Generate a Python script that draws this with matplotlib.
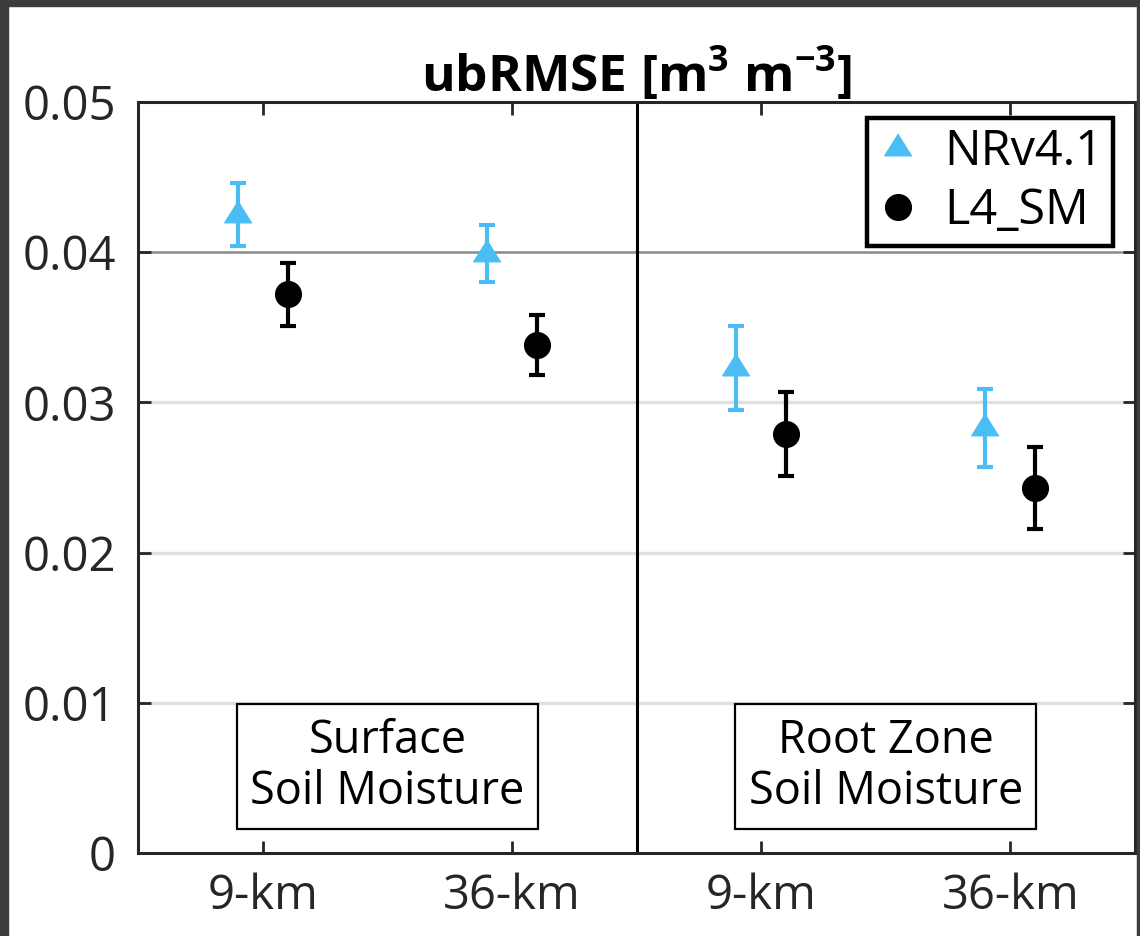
import matplotlib
matplotlib.use("Agg")
import matplotlib.pyplot as plt
from matplotlib.lines import Line2D
from matplotlib.patches import Rectangle

# ---- data ----
categories = ["9-km", "36-km", "9-km", "36-km"]
groups = ["Surface\nSoil Moisture", "Root Zone\nSoil Moisture"]
nr_vals = [0.0425, 0.0399, 0.0323, 0.0283]
nr_err = [0.0021, 0.0019, 0.0028, 0.0026]
l4_vals = [0.0372, 0.0338, 0.0279, 0.0243]
l4_err = [0.0021, 0.0020, 0.0028, 0.0027]
series_names = ["NRv4.1", "L4_SM"]
ytick_vals = [0, 0.01, 0.02, 0.03, 0.04, 0.05]
ytick_labels = ["0", "0.01", "0.02", "0.03", "0.04", "0.05"]

plt.rcParams["font.family"] = ["Open Sans", "DejaVu Sans"]
plt.rcParams["mathtext.fontset"] = "custom"
plt.rcParams["mathtext.rm"] = "Open Sans"
plt.rcParams["mathtext.bf"] = "Open Sans:bold"

BLUE = "#4BBDF5"
DARK = "#262626"

fig = plt.figure(figsize=(11.4, 9.36), dpi=100)
ax = fig.add_axes([138 / 1140, 1 - 853 / 936, (1135 - 138) / 1140, (853 - 102) / 936])

x = list(range(1, len(categories) + 1))
off = 0.1
tri = [(0, 1.0667), (-1, -0.5333), (1, -0.5333)]

# grid / reference lines
for yv in ytick_vals[1:4]:
    ax.axhline(yv, color="#e0e0e0", lw=2.4, zorder=0)
ax.axhline(0.04, color="#8a8a8a", lw=1.8, zorder=0.5)
ax.axvline(2.5, color="black", lw=2.2, zorder=1)

ax.errorbar([xi - off for xi in x], nr_vals, yerr=nr_err, fmt="none",
            ecolor=BLUE, elinewidth=3, capsize=5.6, capthick=3, zorder=2)
ax.plot([xi - off for xi in x], nr_vals, linestyle="none", marker=tri,
        markersize=21, color=BLUE, zorder=3)
ax.errorbar([xi + off for xi in x], l4_vals, yerr=l4_err, fmt="none",
            ecolor="black", elinewidth=3, capsize=5.6, capthick=3, zorder=2)
ax.plot([xi + off for xi in x], l4_vals, linestyle="none", marker="o",
        markersize=18.5, color="black", zorder=3)

ax.set_xlim(0.5, 4.5)
ax.set_ylim(0, 0.05)
ax.set_xticks(x)
ax.set_xticklabels(categories)
ax.set_yticks(ytick_vals)
ax.set_yticklabels(ytick_labels)
ax.tick_params(axis="both", direction="in", length=9, width=2, colors=DARK,
               labelsize=34, top=True, right=True)
ax.tick_params(axis="x", pad=14)
ax.tick_params(axis="y", pad=16)
for sp in ax.spines.values():
    sp.set_color(DARK)
    sp.set_linewidth(2.2)

ax.set_title(r"ubRMSE [m$^{\mathbf{3}}$ m$^{\mathbf{-3}}$]", fontsize=37,
             fontweight="bold", pad=7)

# group labels
for gx, gl in zip([1.5, 3.5], groups):
    ax.text(gx, 0.00575, gl, ha="center", va="center", fontsize=32.5,
            linespacing=1.15, color="black",
            bbox=dict(boxstyle="square,pad=0.3", fc="white", ec="black", lw=1.6),
            zorder=4)

handles = [Line2D([], [], linestyle="none", marker=tri, markersize=21, color=BLUE),
           Line2D([], [], linestyle="none", marker="o", markersize=18.5, color="black")]
leg = ax.legend(handles, series_names, loc="upper right", fontsize=35,
                frameon=True, fancybox=False, framealpha=1, handlelength=0.9,
                handletextpad=0.5, borderpad=0.2, labelspacing=0.2,
                borderaxespad=0.0, bbox_to_anchor=(0.978, 0.979))
leg.get_frame().set_edgecolor("black")
leg.get_frame().set_linewidth(3.2)
leg.set_zorder(5)

# dark figure border
border = "#3c3c3c"
fig.patches.append(Rectangle((0, 1 - 6 / 936), 1, 6 / 936, transform=fig.transFigure,
                             color=border, zorder=10))
fig.patches.append(Rectangle((0, 0), 8 / 1140, 1, transform=fig.transFigure,
                             color=border, zorder=10))
fig.patches.append(Rectangle((1137 / 1140, 0), 3 / 1140, 1, transform=fig.transFigure,
                             color=border, zorder=10))

fig.savefig("out.png", dpi=100)
